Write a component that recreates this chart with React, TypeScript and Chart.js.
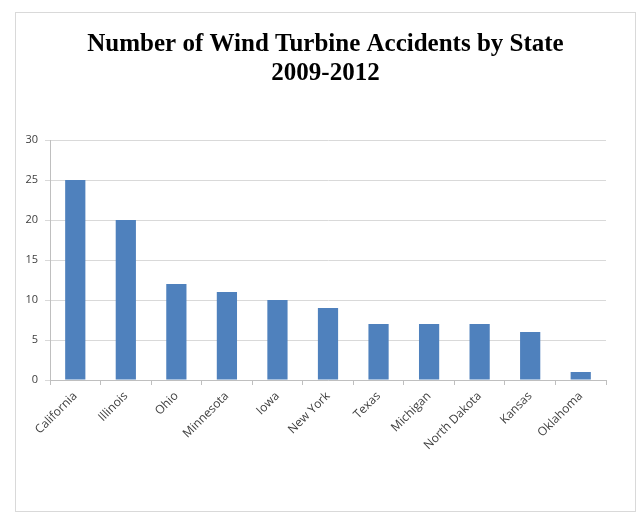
import React, { useEffect, useRef } from "react";
import { Chart, registerables } from "chart.js";

Chart.register(...registerables);

const titleLines = ["Number of Wind Turbine Accidents by State", "2009-2012"];
const states = [
  "California",
  "Illinois",
  "Ohio",
  "Minnesota",
  "Iowa",
  "New York",
  "Texas",
  "Michigan",
  "North Dakota",
  "Kansas",
  "Oklahoma",
];
const accidents = [25, 20, 12, 11, 10, 9, 7, 7, 7, 6, 1];
const yMin = 0;
const yMax = 30;
const yStep = 5;

export default function App() {
  const ref = useRef<HTMLCanvasElement | null>(null);

  useEffect(() => {
    if (!ref.current) return;
    const chart = new Chart(ref.current, {
      type: "bar",
      data: {
        labels: states,
        datasets: [
          {
            data: accidents,
            backgroundColor: "#4f81bd",
            borderWidth: 0,
            categoryPercentage: 1,
            barPercentage: 0.4,
            yAxisID: "y",
          },
        ],
      },
      options: {
        animation: false,
        responsive: false,
        layout: { padding: 0 },
        plugins: {
          legend: { display: false },
          tooltip: { enabled: false },
          title: {
            display: true,
            text: titleLines,
            color: "#000000",
            font: { family: "Liberation Serif", size: 25, weight: "bold", lineHeight: 1.16 },
            padding: { top: 17, bottom: 52 },
          },
        },
        scales: {
          x: {
            offset: true,
            grid: {
              display: true,
              offset: true,
              drawOnChartArea: false,
              drawTicks: true,
              tickLength: 5,
              color: "#bfbfbf",
            },
            border: { display: true, color: "#bfbfbf", width: 1 },
            ticks: {
              minRotation: 45,
              maxRotation: 45,
              autoSkip: false,
              padding: 4,
              color: "#404040",
              font: { family: "Open Sans", size: 12 },
            },
            afterFit: (scale: any) => {
              scale.height = 131;
            },
          },
          y: {
            min: yMin,
            max: yMax,
            grid: {
              color: "#d9d9d9",
              tickLength: 5,
              drawTicks: true,
            },
            border: { display: true, color: "#bfbfbf", width: 1 },
            ticks: {
              stepSize: yStep,
              padding: 7,
              color: "#404040",
              font: { family: "Open Sans", size: 11 },
            },
            afterFit: (scale: any) => {
              scale.width = 34;
            },
          },
          spacer: {
            type: "linear",
            position: "right",
            display: true,
            grid: { display: false, drawOnChartArea: false },
            border: { display: false },
            ticks: { display: false },
            afterFit: (scale: any) => {
              scale.width = 29;
            },
          },
        },
      },
    });
    return () => chart.destroy();
  }, []);

  return (
    <div
      style={{
        position: "absolute",
        left: 15,
        top: 12,
        width: 621,
        height: 500,
        border: "1px solid #d9d9d9",
        boxSizing: "border-box",
        background: "#fff",
      }}
    >
      <canvas ref={ref} width={619} height={498} style={{ display: "block" }} />
    </div>
  );
}
